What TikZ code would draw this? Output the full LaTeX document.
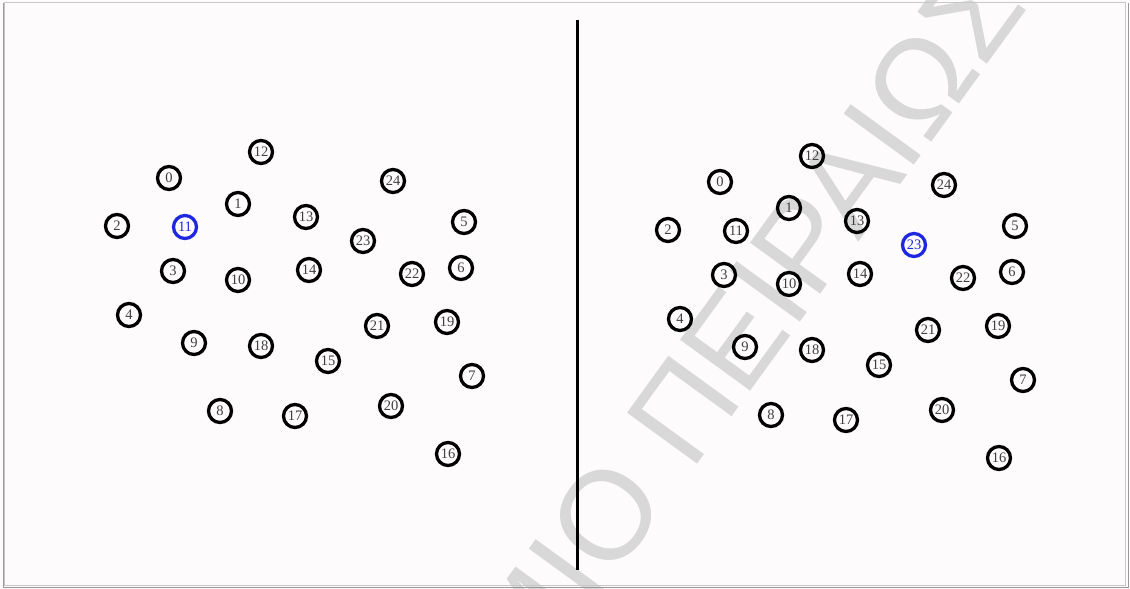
\documentclass[tikz,border=0pt]{standalone}
\usepackage{fontspec}
\setmainfont{Liberation Serif}
\newfontfamily\wmfont{Liberation Sans}
\definecolor{bluec}{RGB}{30,40,225}
\definecolor{bgc}{RGB}{253,251,252}
\definecolor{wmc}{RGB}{216,216,216}
\begin{document}
\begin{tikzpicture}[x=1pt,y=-1pt,
  nd/.style={circle, draw=black, line width=3.3pt, minimum size=23pt, inner sep=0pt,
             font=\fontsize{14.5}{14.5}\selectfont, text=black!75},
  wm/.style={font=\wmfont\fontsize{126}{126}\selectfont, text=wmc, rotate=54, inner sep=0pt},
  divider/.style={line width=3pt, black}]
\useasboundingbox (0,0) rectangle (1130,589);
\fill[bgc] (0,0) rectangle (1130,589);
% watermark
\node[wm, anchor=base west] (wmB) at (691,473) {ΠΕΙΡΑΙΩΣ};
\node[wm, anchor=base east] (wmA) at (670.4,501.3) {ΠΑΝΕΠΙΣΤΗΜΙΟ};
% frame
\draw[black!22, line width=1.5pt] (4.5,2.5) rectangle (1125.5,585.5);
\draw[black!40, line width=1.6pt] (3.5,3) -- (3.5,587.5) -- (1128.5,587.5) -- (1128.5,3);
% divider
\coordinate (dTop) at (577,20);
\coordinate (dBot) at (577,570);
\draw[divider] (dTop) -- (dBot);
% nodes
\foreach \n/\x/\y in {0/169/178, 1/238/204, 2/117/226, 3/173/271, 4/129/315,
  5/464/222, 6/461/268, 7/472/376, 8/220/411, 9/194/343, 10/238/280,
  11/185/227, 12/261/152, 13/306/217, 14/309/270, 15/328/361, 16/448/454,
  17/295/416, 18/261/346, 19/447/322, 20/391/406, 21/377/326, 22/412/274,
  23/363/241, 24/393/181}{
  \ifnum\n=11 \def\lc{bluec}\def\lt{bluec}\else\def\lc{black}\def\lt{black!75}\fi
  \node[nd, draw=\lc, text=\lt] (L\n) at (\x,\y) {\n};
  \ifnum\n=23 \def\rc{bluec}\def\rt{bluec}\else\def\rc{black}\def\rt{black!75}\fi
  \node[nd, draw=\rc, text=\rt] (R\n) at (\x+551,\y+4) {\n};
}
\end{tikzpicture}
\end{document}
